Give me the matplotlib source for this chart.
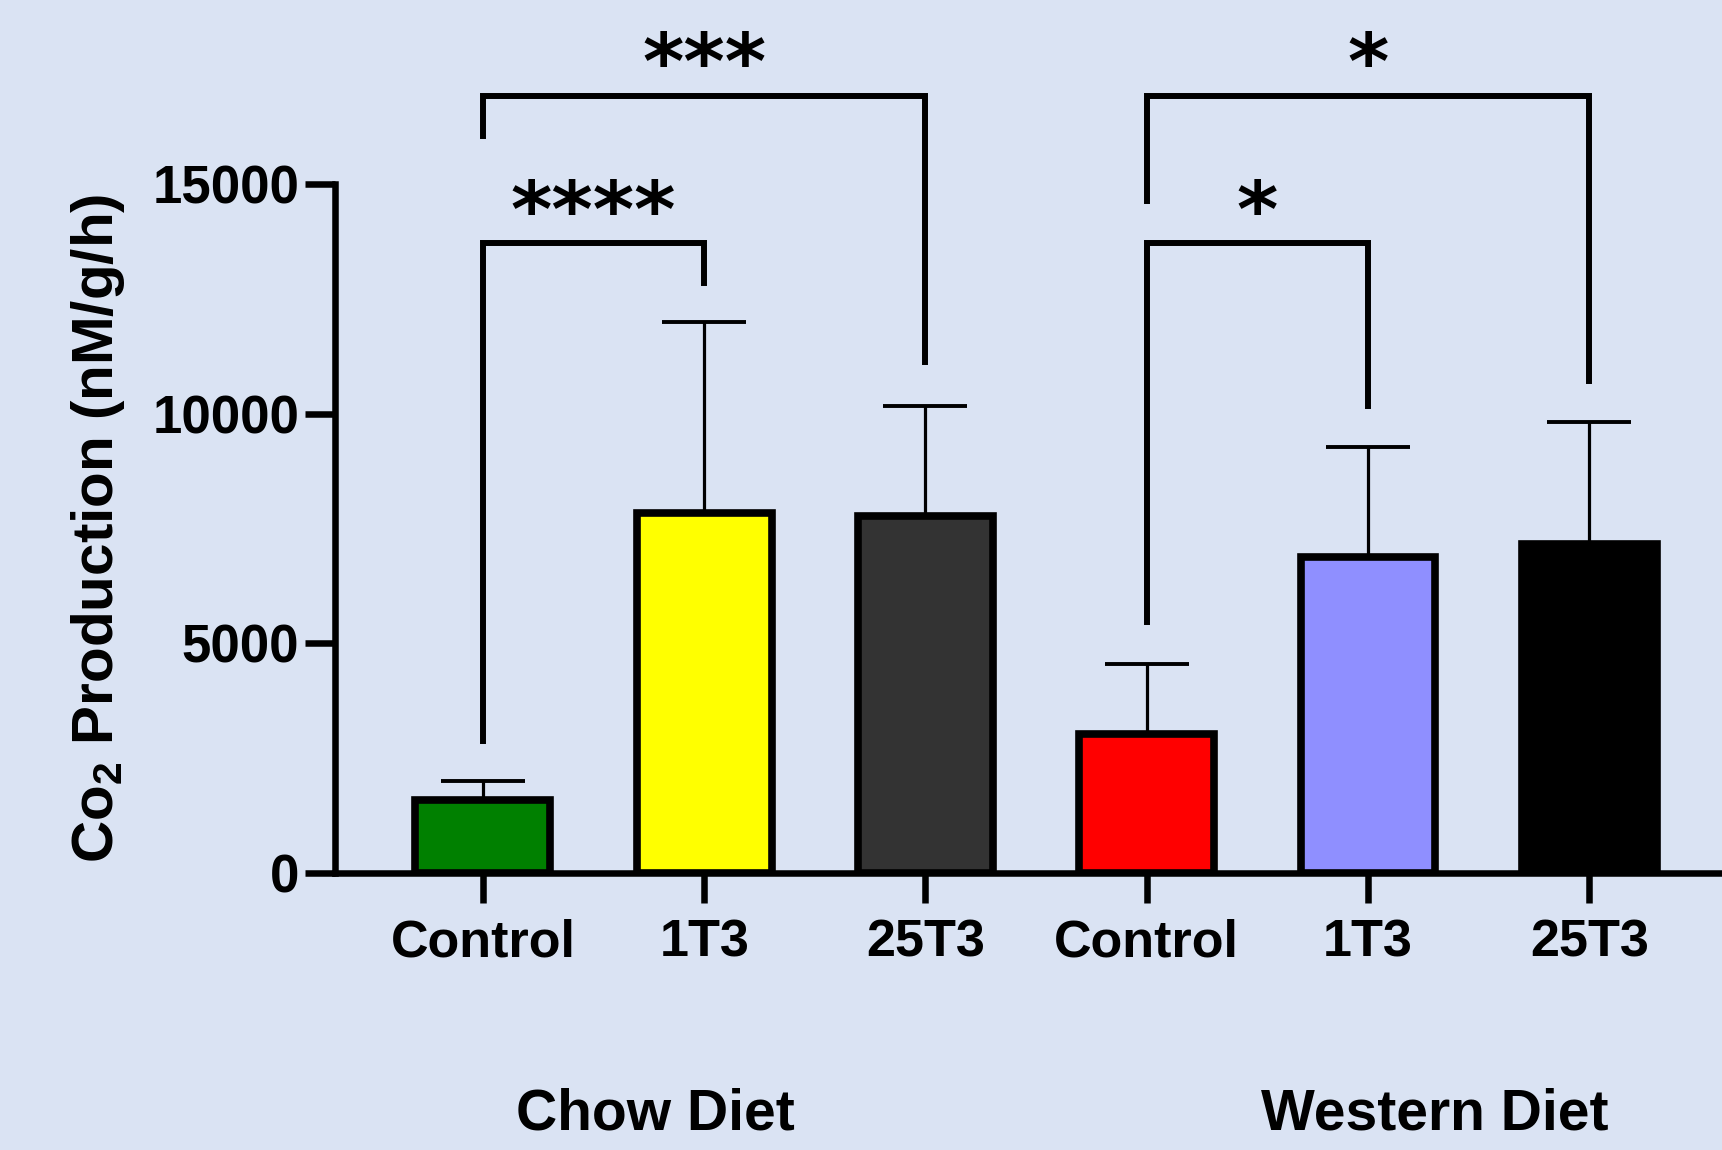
import matplotlib
matplotlib.use('Agg')
import matplotlib.pyplot as plt
import numpy as np

plt.rcParams['font.family'] = ['Liberation Sans', 'DejaVu Sans']
plt.rcParams['font.weight'] = 'bold'
plt.rcParams['mathtext.fontset'] = 'custom'
plt.rcParams['mathtext.bf'] = 'Liberation Sans:bold'
plt.rcParams['mathtext.rm'] = 'Liberation Sans:bold'

# data
labels = ['Control', '1T3', '25T3', 'Control', '1T3', '25T3']
means = [1600, 7850, 7770, 3030, 6890, 7170]
err_up = [400, 4150, 2410, 1526, 2382, 2647]
colors = ['#008000', '#FFFF00', '#333333', '#FF0000', '#8F8FFF', '#000000']

groups = ['Chow Diet', 'Western Diet']
group_x = [0.78, 4.3]

# significance brackets
pairs = [(0, 1), (0, 2), (3, 4), (3, 5)]
bracket_y = [13735, 16924, 13735, 16924]
left_bottom = [2880, 16050, 5460, 14635]
right_bottom = [12860, 11140, 10180, 10720]
stars = ['****', '***', '*', '*']
star_y = [14330, 17560, 14330, 17560]

bg = '#DAE3F3'

fig = plt.figure(figsize=(17.22, 11.5), dpi=100, facecolor=bg)
ax = fig.add_axes([0.1945, 0.2409, 0.8055, 0.5987])
ax.set_facecolor(bg)

x = np.arange(len(means))
ax.bar(x, means, width=0.61, color=colors, edgecolor='black', linewidth=5.5, zorder=3)
ax.errorbar(x, means, yerr=[np.zeros(len(means)), err_up], fmt='none', ecolor='black',
            elinewidth=2.3, capsize=30, capthick=2.8, zorder=2)

for (i, j), yb, lb, rb, s, sy in zip(pairs, bracket_y, left_bottom, right_bottom, stars, star_y):
    ax.plot([i, i, j, j], [lb, yb, yb, rb], color='black', lw=4.3,
            solid_joinstyle='miter', clip_on=False, zorder=4)
    ax.text((i + j) / 2, sy, s, ha='center', va='center', fontsize=57,
            family='DejaVu Sans', fontweight='bold', clip_on=False)

ax.set_xlim(-0.669, 5.6)
ax.set_ylim(0, 15000)
ax.spines['top'].set_visible(False)
ax.spines['right'].set_visible(False)
ax.spines['left'].set_linewidth(4.7)
ax.spines['bottom'].set_linewidth(4.7)
ax.spines['left'].set_bounds(0, 15000)

ax.set_yticks([0, 5000, 10000, 15000])
ax.set_yticklabels(['0', '5000', '10000', '15000'], fontsize=38, fontweight='bold')
ax.set_xticks(x)
ax.set_xticklabels(labels, fontsize=37.5, fontweight='bold')
ax.tick_params(axis='y', length=21.6, width=4.7, pad=4)
ax.tick_params(axis='x', length=21.6, width=4.7, pad=11)

ax.set_ylabel(r'Co$_\mathbf{2}$ Production (nM/g/h)', fontsize=42, fontweight='bold')
ax.yaxis.set_label_coords(-0.15, 0.5)

for g, gx in zip(groups, group_x):
    ax.text(gx, -5265, g, ha='center', va='center', fontsize=41, fontweight='bold',
            clip_on=False)

fig.savefig('out.png', dpi=100, facecolor=bg)
